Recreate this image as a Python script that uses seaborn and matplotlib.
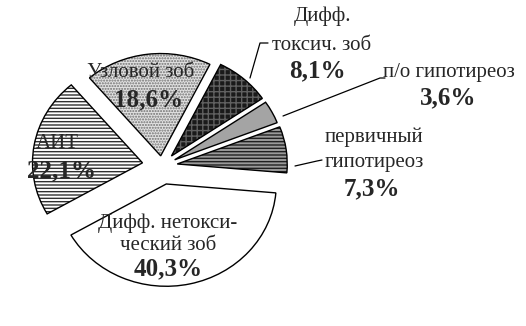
import numpy as np
import matplotlib
matplotlib.use('Agg')
import matplotlib.pyplot as plt
from matplotlib.patches import Wedge
import seaborn as sns

# slices counter-clockwise from the right horizontal edge
categories = ['первичный\nгипотиреоз', 'п/о гипотиреоз', 'Дифф.\nтоксич. зоб',
              'Узловой зоб', 'АИТ', 'Дифф. нетокси-\nческий зоб']
shares = [7.3, 3.6, 8.1, 18.6, 22.1, 40.3]
explode = [0.14, 0.13, 0.13, 0.10, 0.18, 0.18]
face_colors = ['#9a9a9a', '#a4a4a4', '#1a1a1a', '#e2e2e2', 'white', 'white']
hatch_colors = ['#202020', '#a4a4a4', '#606060', '#707070', '#303030', 'white']
hatches = ['-----', None, '+++', '.' * 6, '-----', None]

sns.set_style('white')
plt.rcParams['font.family'] = ['Liberation Serif', 'DejaVu Serif']
plt.rcParams['hatch.linewidth'] = 1.0

W, H = 526, 326
fig = plt.figure(figsize=(W / 100, H / 100), dpi=100)
ax = fig.add_axes([0, 0, 1, 1])

wedges, _ = ax.pie(shares, explode=explode, startangle=-5, counterclock=True,
                   colors=face_colors, radius=1.0)
for w, hc, h in zip(wedges, hatch_colors, hatches):
    w.set_edgecolor(hc)
    w.set_linewidth(0)
    if h:
        w.set_hatch(h)
    ax.add_patch(Wedge(w.center, w.r, w.theta1, w.theta2, fill=False,
                       ec='black', lw=1.0))

# squash the pie a bit, centre at pixel (162, 166)
r_px = 110
sq = 0.93
cx, cy = 162, 166
ax.set_aspect('auto')
ax.set_xlim(-cx / r_px, (W - cx) / r_px)
ax.set_ylim(-(H - cy) / (r_px * sq), cy / (r_px * sq))
ax.axis('off')


def px(x, y):
    return x / W, 1 - y / H


# pixel positions of the label lines and of the percentage
label_x = [374, 449, 322, 141, 57, 168]
label_y = [[137, 163], [72], [16, 45], [72], [143], [223, 246]]
pct_pos = [(372, 189), (448, 98), (317, 71), (149, 100), (62, 171), (168, 269)]
for name, v, lx, lys, pp in zip(categories, shares, label_x, label_y, pct_pos):
    for line, ly in zip(name.split('\n'), lys):
        fig.text(*px(lx, ly), line, ha='center', va='center', fontsize=15)
    fig.text(*px(*pp), f'{v:.1f}%'.replace('.', ','), ha='center',
             va='center', fontsize=18, fontweight='bold')

# leader lines
leaders = [
    [(322, 160), (317, 161), (295, 166)],
    [(385, 78), (380, 78), (283, 116)],
    [(268, 43), (260, 43), (250, 78)],
]
for pts in leaders:
    xs = [p[0] / W for p in pts]
    ys = [1 - p[1] / H for p in pts]
    fig.add_artist(plt.Line2D(xs, ys, color='black', lw=0.9))

fig.savefig('out.png', dpi=100)
